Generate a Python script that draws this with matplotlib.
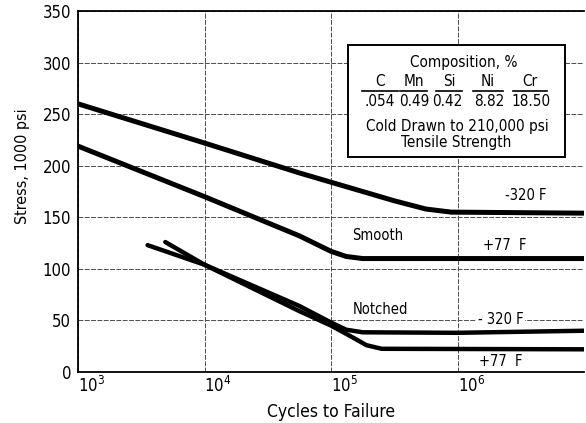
import numpy as np
import matplotlib
matplotlib.use('Agg')
import matplotlib.pyplot as plt
from matplotlib.patches import Rectangle

plt.rcParams['font.family'] = ['DejaVu Sans']
plt.rcParams['font.stretch'] = 'condensed'

# curves: (log10 cycles, stress in 1000 psi)
SMOOTH_M320_LOGN = [3.0, 4.0, 4.75, 5.0, 5.5, 5.75, 5.95, 7.0]
SMOOTH_M320_S = [260, 222, 193, 184, 166, 158, 155, 154]

SMOOTH_P77_LOGN = [3.0, 4.0, 4.75, 5.0, 5.12, 5.25, 7.0]
SMOOTH_P77_S = [219, 170, 132, 117, 112, 110, 110]

NOTCH_M320_LOGN = [3.55, 4.0, 4.75, 5.0, 5.12, 5.25, 6.0, 7.0]
NOTCH_M320_S = [123, 104, 64, 48, 41, 38.5, 38, 40]

NOTCH_P77_LOGN = [3.69, 4.0, 4.75, 5.0, 5.15, 5.28, 5.4, 7.0]
NOTCH_P77_S = [126, 104, 59, 45, 35, 26, 22.5, 22]

Y_TICKS = [0, 50, 100, 150, 200, 250, 300, 350]
X_TICKS = [1e3, 1e4, 1e5, 1e6, 1e7]
X_TICKLABELS = ['$10^3$', '$10^4$', '$10^5$', '$10^6$', '']

ELEMENTS = ['C', 'Mn', 'Si', 'Ni', 'Cr']
PERCENTS = ['.054', '0.49', '0.42', '8.82', '18.50']


W, H = 586, 423
fig = plt.figure(figsize=(W / 100, H / 100), dpi=100)
ax = fig.add_axes([78 / W, (H - 372) / H, (584 - 78) / W, 361 / H])


def lx(v):
    return [10 ** a for a in v]


ax.plot(lx(SMOOTH_M320_LOGN), SMOOTH_M320_S, color='black', lw=3.6, solid_capstyle='butt', zorder=4)
ax.plot(lx(SMOOTH_P77_LOGN), SMOOTH_P77_S, color='black', lw=3.6, solid_capstyle='butt', zorder=4)
ax.plot(lx(NOTCH_M320_LOGN), NOTCH_M320_S, color='black', lw=3.2, solid_capstyle='round', zorder=4)
ax.plot(lx(NOTCH_P77_LOGN), NOTCH_P77_S, color='black', lw=3.2, solid_capstyle='round', zorder=4)

ax.set_xscale('log')
ax.set_xlim(1e3, 1e7)
ax.set_ylim(0, 350)
ax.set_xticks(X_TICKS)
ax.set_xticklabels(X_TICKLABELS)
ax.minorticks_off()
ax.set_yticks(Y_TICKS)
ax.tick_params(axis='both', length=0, labelsize=12)
ax.tick_params(axis='y', pad=5)
ax.tick_params(axis='x', pad=3)
for lab in ax.get_xticklabels():
    lab.set_horizontalalignment('left')

ax.grid(True, ls=(0, (5, 1.5)), lw=0.7, color='0.3')
ax.set_axisbelow(True)
for s in ['top', 'left', 'bottom']:
    ax.spines[s].set_linewidth(1.3)
ax.spines['right'].set_visible(False)

ax.set_xlabel('Cycles to Failure', fontsize=12.5, labelpad=5)
ax.set_ylabel('Stress, 1000 psi', fontsize=11.5)
ax.yaxis.set_label_coords(-0.095, 0.57)

# curve labels
lbl = dict(fontsize=10.5, ha='center', va='center', zorder=5)
ax.text(10 ** 6.54, 171, '-320 F', **lbl)
ax.text(10 ** 5.37, 132, 'Smooth', **lbl)
ax.text(10 ** 6.37, 123, '+77  F', **lbl)
ax.text(10 ** 5.39, 61, 'Notched', **lbl)
ax.text(10 ** 6.34, 50.5, '- 320 F', bbox=dict(fc='white', ec='none', pad=1), **lbl)
ax.text(10 ** 6.34, 9.7, '+77  F', **lbl)


# composition box (figure pixel positions)
def fp(x, y):
    return x / W, 1 - y / H


bx0, by0 = fp(348, 157)
bx1, by1 = fp(565, 45)
fig.patches.append(Rectangle((bx0, by0), bx1 - bx0, by1 - by0, transform=fig.transFigure,
                             fc='white', ec='black', lw=1.4, zorder=3))
tk = dict(fontsize=11, ha='center', va='center', zorder=6)
fig.text(*fp(464, 62), 'Composition, %', **tk)
col_x = [380, 414, 447, 489, 531]
ul = [(362, 398), (400, 427), (436, 462), (473, 503), (513, 547)]
for cx, el, pc, (u0, u1) in zip(col_x, ELEMENTS, PERCENTS, ul):
    fig.text(*fp((u0 + u1) / 2, 81), el, **tk)
    fig.text(*fp(cx, 101), pc, **tk)
    fig.lines.append(plt.Line2D([u0 / W, u1 / W], [1 - 91 / H, 1 - 91 / H],
                                transform=fig.transFigure, color='black', lw=1.2, zorder=6))
fig.text(*fp(457, 127), 'Cold Drawn to 210,000 psi', **tk)
fig.text(*fp(456, 143), 'Tensile Strength', **tk)

fig.savefig('out.png', dpi=100)
